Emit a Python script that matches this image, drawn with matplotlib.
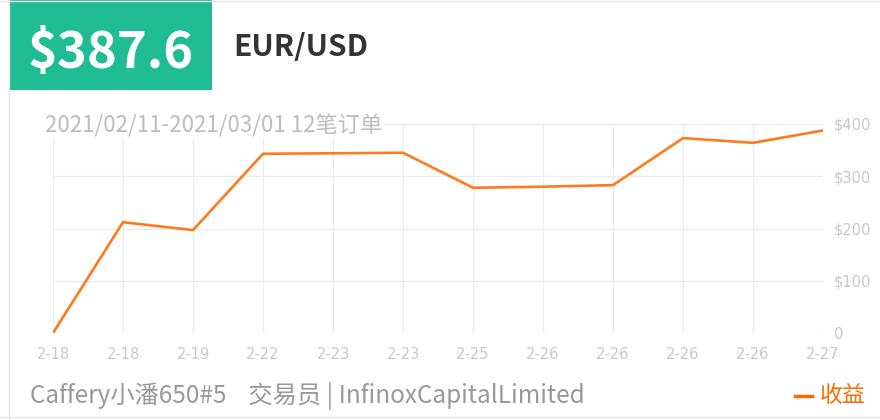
import matplotlib.pyplot as plt
from matplotlib.patches import Rectangle
from matplotlib.lines import Line2D

plt.rcParams['font.family'] = ['Noto Sans CJK SC', 'DejaVu Sans']

dates = ['2-18', '2-18', '2-19', '2-22', '2-23', '2-23', '2-25', '2-26', '2-26', '2-26', '2-26', '2-27']
profit = [0, 212, 197, 343, 344, 345, 278, 280, 283, 373, 364, 387.6]
yticks = [0, 100, 200, 300, 400]
ylabels = ['0', '$100', '$200', '$300', '$400']

W, H = 880, 420
fig = plt.figure(figsize=(8.8, 4.2), dpi=100)
fig.patch.set_facecolor('white')

# card border
fig.add_artist(Line2D([8.5 / W, 8.5 / W], [0, 1], color='#e6e6e6', lw=1))
fig.add_artist(Line2D([0, 1], [1 - 416.5 / H, 1 - 416.5 / H], color='#e6e6e6', lw=1))
fig.add_artist(Line2D([0, 1], [1 - 0.5 / H, 1 - 0.5 / H], color='#e6e6e6', lw=1))

# green box
fig.add_artist(Rectangle((10 / W, 1 - 90 / H), 202 / W, 90 / H, color='#20bc94', lw=0))
fig.text(111 / W, 1 - 53 / H, '$387.6', color='white', fontsize=36.5, fontweight='bold',
         ha='center', va='center')
fig.text(233 / W, 1 - 47 / H, 'EUR/USD', color='#333333', fontsize=21.5, fontweight='bold',
         ha='left', va='center')

ax = fig.add_axes([53 / W, 1 - 333 / H, 770 / W, 209 / H])
x = range(len(profit))
ax.plot(x, profit, color='#ff7a1f', lw=1.9, solid_joinstyle='miter', zorder=3)
ax.set_xlim(0, len(profit) - 1)
ax.set_ylim(0, 400)
ax.set_xticks(list(x))
ax.set_xticklabels(dates)
ax.set_yticks(yticks)
ax.set_yticklabels(ylabels)
ax.yaxis.tick_right()
ax.grid(True, color='#ececec', lw=0.9)
for s in ax.spines.values():
    s.set_visible(False)
ax.tick_params(length=0, colors='#c8c8c8', labelsize=10.5, pad=10)
ax.tick_params(axis='y', pad=8)
for lab in ax.get_xticklabels() + ax.get_yticklabels():
    lab.set_family(['Liberation Sans Narrow', 'DejaVu Sans'])

fig.text(45 / W, 1 - 126 / H, '2021/02/11-2021/03/01 12笔订单', color='#bdbdbd', fontsize=16,
         fontweight='light', ha='left', va='center',
         bbox=dict(facecolor='white', edgecolor='none', pad=1))

fig.text(30 / W, 1 - 396 / H, 'Caffery小潘650#5    交易员 | InfinoxCapitalLimited',
         color='#999999', fontsize=17.5, ha='left', va='center')
fig.add_artist(Line2D([795 / W, 812 / W], [1 - 396 / H, 1 - 396 / H], color='#ff6a00', lw=2.5))
fig.text(820 / W, 1 - 396 / H, '收益', color='#ff6a00', fontsize=16.5, ha='left', va='center')

fig.savefig('out.png', dpi=100, facecolor='white')
